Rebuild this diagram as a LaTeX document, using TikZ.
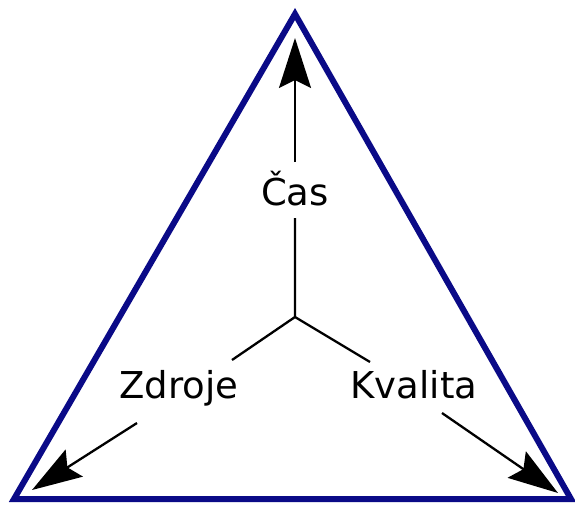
\documentclass[tikz,border=0pt]{standalone}
\usepackage{fontspec}
\setmainfont{DejaVu Sans}
\usetikzlibrary{arrows.meta}
\definecolor{trojmodra}{RGB}{10,10,135}
\tikzset{strana/.style={draw=trojmodra,line width=6pt,line join=miter},
         osa/.style={line width=2.3pt},
         sipka/.style={line width=2.3pt,-{Stealth[length=50pt,width=32pt,inset=8pt]}},
         popis/.style={anchor=base,inner sep=0pt,font=\fontsize{37}{40}\selectfont}
         }

\begin{document}
\begin{tikzpicture}[x=1pt,y=-1pt]
        \useasboundingbox (0,0) rectangle (575,504);
        \coordinate (A) at (295,14);
        \coordinate (B) at (14,499);
        \coordinate (C) at (571,499);
        \coordinate (S) at (295,317);
        \draw[strana] (A)--(B)--(C)--cycle;

        \node[popis] (cas) at (295,205) {Čas};
        \node[popis] (zdr) at (179,398) {Zdroje};
        \node[popis] (kval) at (414,398) {Kvalita};

        \coordinate (c1) at (295,218);
        \coordinate (c2) at (295,162);
        \coordinate (ct) at (295,38);
        \coordinate (z1) at (232,360);
        \coordinate (z2) at (137,423);
        \coordinate (zt) at (32,490);
        \coordinate (k1) at (370,362);
        \coordinate (k2) at (442,413);
        \coordinate (kt) at (558,493);

        \draw[osa] (c1)--(S)--(z1);
        \draw[osa] (S)--(k1);
        \draw[sipka] (c2)--(ct);
        \draw[sipka] (z2)--(zt);
        \draw[sipka] (k2)--(kt);
    \end{tikzpicture}
\end{document}
